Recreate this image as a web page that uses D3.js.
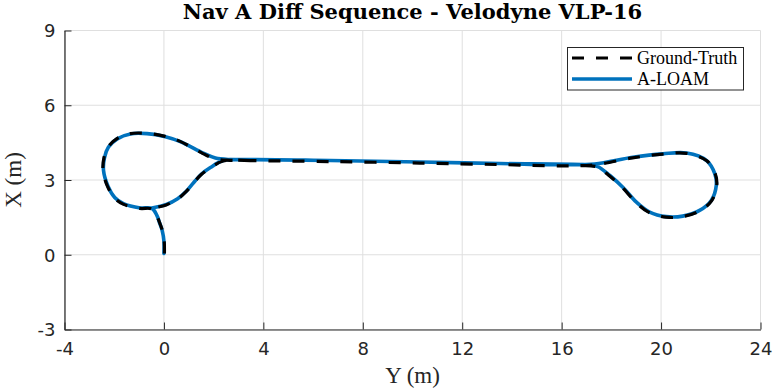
<!DOCTYPE html>
<html>
<head>
<meta charset="utf-8">
<script src="https://cdn.jsdelivr.net/npm/d3@7"></script>
<style>
  html, body { margin: 0; padding: 0; background: #fff; }
  svg { display: block; }
</style>
</head>
<body>
<svg id="chart" width="777" height="391"></svg>
<script>
// ---------- data ----------
const xTicks = [-4, 0, 4, 8, 12, 16, 20, 24];
const yTicks = [-3, 0, 3, 6, 9];
const seriesNames = ["Ground-Truth", "A-LOAM"];

// A-LOAM trajectory (Y horizontal, X vertical), in metres
const aloamY = [0.00, 0.00, -0.07, -0.18, -0.28, -0.48,
  -0.95, -1.63, -1.98, -2.25, -2.43, -2.39, -2.23, -1.88, -1.35, -0.68, 0.06, 0.66, 1.58, 2.07, 2.67,
  3.47, 6.69, 10.30, 13.52, 16.13, 17.33,
  18.86, 20.07, 21.03, 21.83, 22.16, 22.22, 22.02, 21.55, 20.87, 20.21, 19.54, 19.01, 18.46, 17.94, 17.45, 16.93,
  13.52, 10.30, 6.69, 3.47,
  2.39, 1.87, 1.50, 1.20, 0.90, 0.55, 0.10, -0.48];
const aloamX = [0.05, 0.55, 0.97, 1.29, 1.57, 1.86,
  1.88, 2.05, 2.30, 2.75, 3.38, 3.90, 4.32, 4.65, 4.85, 4.86, 4.74, 4.54, 4.08, 3.88, 3.82,
  3.82, 3.78, 3.72, 3.66, 3.61, 3.64,
  3.91, 4.05, 4.08, 3.78, 3.26, 2.78, 2.18, 1.78, 1.55, 1.53, 1.71, 2.11, 2.71, 3.18, 3.54, 3.61,
  3.66, 3.72, 3.78, 3.82,
  3.78, 3.50, 3.23, 2.90, 2.55, 2.25, 2.02, 1.88];

// Ground-truth trajectory
const gtY = [0.02, 0.01, -0.06, -0.17, -0.29, -0.50,
  -0.97, -1.64, -1.99, -2.27, -2.45, -2.41, -2.24, -1.89, -1.36, -0.69, 0.05, 0.65, 1.57, 2.06, 2.66,
  3.47, 6.69, 10.30, 13.52, 16.13, 17.32,
  18.85, 20.06, 21.02, 21.84, 22.18, 22.24, 22.03, 21.55, 20.86, 20.20, 19.53, 19.00, 18.45, 17.93, 17.44, 16.93,
  13.52, 10.30, 6.69, 3.47,
  2.38, 1.86, 1.49, 1.19, 0.89, 0.54, 0.09, -0.50];
const gtX = [0.05, 0.55, 0.96, 1.28, 1.56, 1.84,
  1.86, 2.03, 2.28, 2.74, 3.38, 3.91, 4.33, 4.66, 4.86, 4.87, 4.75, 4.55, 4.06, 3.85, 3.79,
  3.78, 3.74, 3.68, 3.62, 3.57, 3.61,
  3.89, 4.04, 4.07, 3.77, 3.25, 2.77, 2.16, 1.76, 1.53, 1.51, 1.69, 2.09, 2.69, 3.16, 3.52, 3.58,
  3.62, 3.68, 3.74, 3.78,
  3.76, 3.48, 3.21, 2.88, 2.53, 2.23, 2.00, 1.86];
// indices of the return pass along the straight corridor (drawn once for the dashed line)
const gtReturnPass = [43, 44, 45];

// ---------- layout ----------
const svg = d3.select("#chart");
const L = 64.5, R = 760.5, T = 30.5, B = 329.5;
const axisColor = "#262626";
const x = d3.scaleLinear().domain([-4, 24]).range([L, R]);
const y = d3.scaleLinear().domain([-3, 9]).range([B, T]);

// grid
const grid = svg.append("g");
grid.selectAll(".gx").data(xTicks).enter().append("line")
  .attr("x1", d => x(d)).attr("x2", d => x(d))
  .attr("y1", T).attr("y2", B)
  .attr("stroke", "#dfdfdf").attr("stroke-width", 1);
grid.selectAll(".gy").data(yTicks).enter().append("line")
  .attr("x1", L).attr("x2", R)
  .attr("y1", d => y(d)).attr("y2", d => y(d))
  .attr("stroke", "#dfdfdf").attr("stroke-width", 1);

// axes (ticks inward)
const fmt = d => String(d);
const xAxis = d3.axisBottom(x).tickValues(xTicks).tickFormat(fmt).tickSize(-7).tickSizeOuter(0);
const yAxis = d3.axisLeft(y).tickValues(yTicks).tickFormat(fmt).tickSize(-7).tickSizeOuter(0);
const gx = svg.append("g").attr("transform", `translate(0,${B})`).call(xAxis);
const gy = svg.append("g").attr("transform", `translate(${L},0)`).call(yAxis);
[gx, gy].forEach(g => {
  g.select(".domain").attr("stroke", axisColor).attr("stroke-width", 1.2);
  g.selectAll(".tick line").attr("stroke", axisColor).attr("stroke-width", 1);
  g.selectAll(".tick text").attr("fill", axisColor)
    .style("font-family", "'DejaVu Sans', sans-serif").style("font-size", "18px");
});
gx.selectAll(".tick text").attr("dy", "0.71em").attr("y", 13);
gy.selectAll(".tick text").attr("dy", "0.36em").attr("x", -9);

// lines
const pts = (ys, xs) => ys.map((v, i) => ({ Y: v, X: xs[i], i }));
const line = d3.line().x(d => x(d.Y)).y(d => y(d.X)).curve(d3.curveCatmullRom.alpha(0.5));

svg.append("path").datum(pts(aloamY, aloamX))
  .attr("d", line)
  .attr("fill", "none").attr("stroke", "#0072BD").attr("stroke-width", 3.6)
  .attr("stroke-linejoin", "round").attr("stroke-linecap", "round");

const gtLine = d3.line().x(d => x(d.Y)).y(d => y(d.X))
  .defined(d => !gtReturnPass.includes(d.i))
  .curve(d3.curveCatmullRom.alpha(0.5));
svg.append("path").datum(pts(gtY, gtX))
  .attr("d", gtLine)
  .attr("fill", "none").attr("stroke", "#000").attr("stroke-width", 3.2)
  .attr("stroke-dasharray", "12,12");

// title
svg.append("text").attr("x", (L + R) / 2).attr("y", 19).attr("text-anchor", "middle")
  .style("font-family", "'DejaVu Serif', serif").style("font-weight", "bold").style("font-size", "21px")
  .attr("fill", "#000").text("Nav A Diff Sequence - Velodyne VLP-16");

// axis labels
svg.append("text").attr("x", (L + R) / 2).attr("y", 383).attr("text-anchor", "middle")
  .style("font-family", "'Liberation Serif', serif").style("font-size", "23px")
  .attr("fill", axisColor).text("Y (m)");
svg.append("text").attr("transform", `translate(21,${(T + B) / 2}) rotate(-90)`).attr("text-anchor", "middle")
  .style("font-family", "'Liberation Serif', serif").style("font-size", "23px")
  .attr("fill", axisColor).text("X (m)");

// legend
const lg = svg.append("g");
lg.append("rect").attr("x", 567.5).attr("y", 47.5).attr("width", 176).attr("height", 42.5)
  .attr("fill", "#fff").attr("stroke", axisColor).attr("stroke-width", 1);
const legendStyles = [
  { color: "#000", dash: "12,12", w: 3.2 },
  { color: "#0072BD", dash: null, w: 3.6 }
];
seriesNames.forEach((name, k) => {
  const cy = 58 + k * 21;
  lg.append("line").attr("x1", 572).attr("x2", 632).attr("y1", cy).attr("y2", cy)
    .attr("stroke", legendStyles[k].color).attr("stroke-width", legendStyles[k].w)
    .attr("stroke-dasharray", legendStyles[k].dash);
  lg.append("text").attr("x", 637).attr("y", cy).attr("dy", "0.33em")
    .style("font-family", "'Liberation Serif', serif").style("font-size", "18px")
    .attr("fill", "#000").text(name);
});
</script>
</body>
</html>
